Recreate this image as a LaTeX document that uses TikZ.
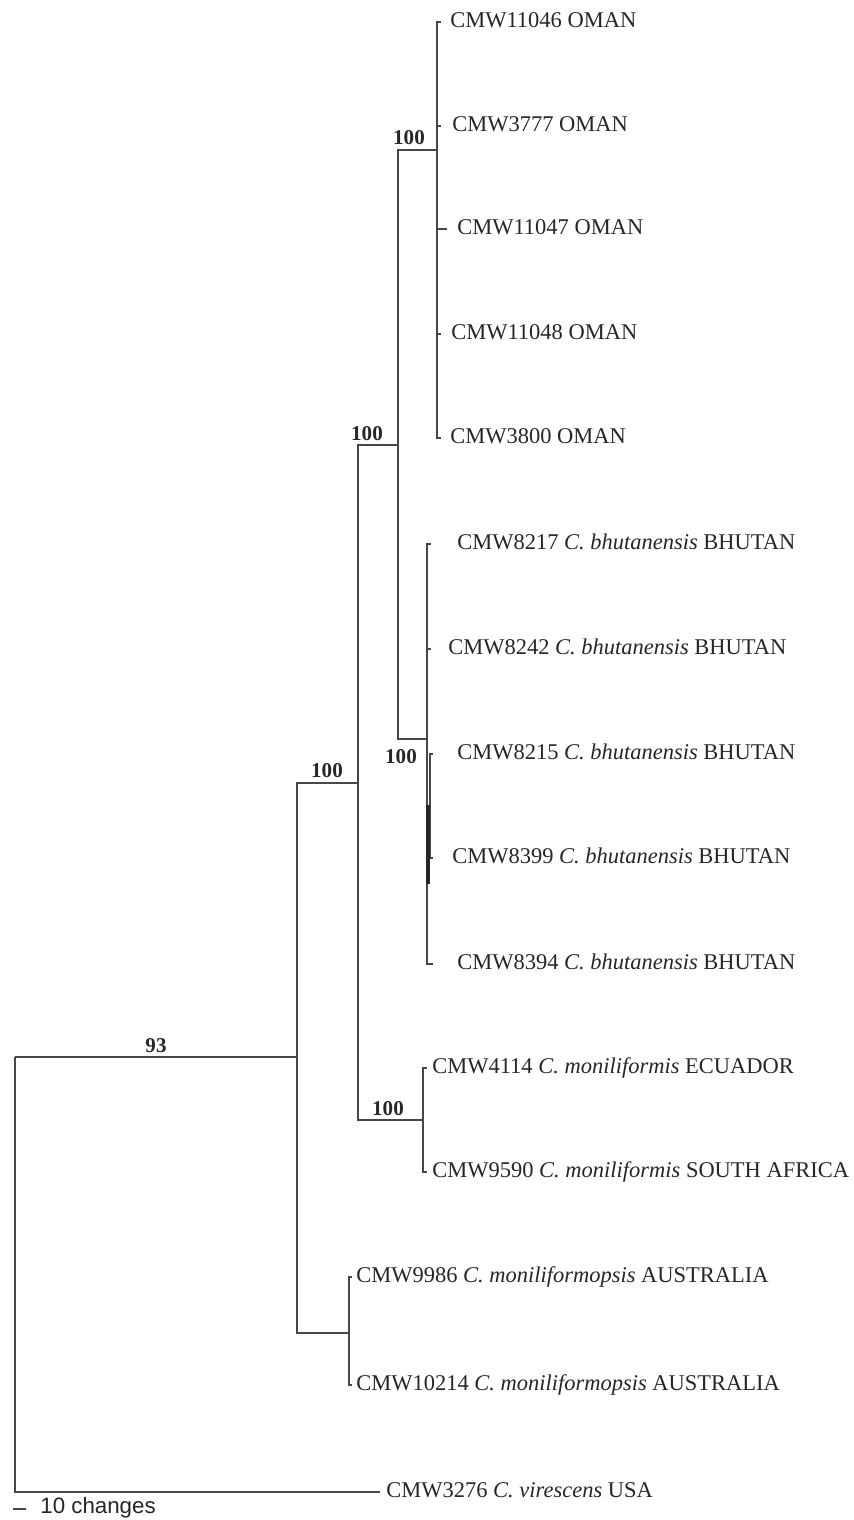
\documentclass[tikz,border=0pt]{standalone}
\usepackage{fontspec}
\setmainfont{Liberation Serif}
\newfontfamily\barfont{Liberation Sans}
\usetikzlibrary{positioning}
\newcommand{\treefont}{\fontsize{12.8}{15}\selectfont}
\newcommand{\bootfont}{\fontsize{12}{14}\selectfont\bfseries}
\newcommand{\spn}[1]{\textit{#1}}

\begin{document}
\begin{tikzpicture}[
    x=0.02cm, y=-0.02cm,
    font=\treefont,
    br/.style={draw=black!72, line width=1.15pt},
    thickbar/.style={draw=black!85, line width=2.4pt},
    leaf/.style={anchor=west, inner ysep=0pt, text height=0.66em, text depth=0pt, text=black!85},
    boot/.style={anchor=base, inner sep=0pt, font=\bootfont, text=black!85},
    scl/.style={anchor=west, inner sep=0pt, text height=0.7em, text depth=0pt, font=\barfont\fontsize{12.7}{15}\selectfont, text=black!85},
  ]
  \useasboundingbox (0,0) rectangle (854,1520);
  % ------------------------------------------------------------------ internal nodes
  \coordinate (root) at (15,1057);
  \coordinate (n1)   at (297,1057);
  \coordinate (n2)   at (358,783);
  \coordinate (aus)  at (349,1333);
  \coordinate (n3)   at (398,445);
  \coordinate (mon)  at (423,1120);
  \coordinate (oma)  at (437,150);
  \coordinate (bhu)  at (427,739);
  \coordinate (bsub) at (430,806);
  % ------------------------------------------------------------------ backbone
  \node[leaf, inner xsep=6*0.02cm] (vir) at (380,1492) {CMW3276 \spn{C. virescens} USA};
  \draw[br] (root) |- (n1);
  \draw[br] (root) |- (vir.west);
  \draw[br] (n1) |- (n2);
  \draw[br] (n1) |- (aus);
  \draw[br] (n2) |- (n3);
  \draw[br] (n2) |- (mon);
  \draw[br] (n3) |- (oma);
  \draw[br] (n3) |- (bhu);
  % ------------------------------------------------------------------ Oman clade
  \foreach \k/\tx/\g/\yy/\txt in {1/441/9/22/CMW11046, 2/441/11/126/CMW3777, 3/447/10/229/CMW11047,
                                  4/441/10/334/CMW11048, 5/441/9/438/CMW3800} {
    \node[leaf, inner xsep=\g*0.02cm] (om\k) at (\tx,\yy) {\txt{} OMAN};
    \draw[br] (oma) |- (om\k.west);
  }
  % ------------------------------------------------------------------ Bhutan clade
  \foreach \k/\tx/\g/\yy/\txt in {1/431/26/544/CMW8217, 2/431/17/649/CMW8242, 5/433/24/964/CMW8394} {
    \node[leaf, inner xsep=\g*0.02cm] (bh\k) at (\tx,\yy) {\txt{} \spn{C. bhutanensis} BHUTAN};
    \draw[br] (bhu) |- (bh\k.west);
  }
  \foreach \k/\tx/\g/\yy/\txt in {3/433/24/754/CMW8215, 4/433/19/858/CMW8399} {
    \node[leaf, inner xsep=\g*0.02cm] (bh\k) at (\tx,\yy) {\txt{} \spn{C. bhutanensis} BHUTAN};
    \draw[br, line width=0.8pt] (bsub) |- (bh\k.west);
  }
  \coordinate (bt) at (428,805);
  \coordinate (bb) at (428,884);
  \draw[thickbar] (bt) -- (bb);
  % ------------------------------------------------------------------ moniliformis and moniliformopsis
  \node[leaf, inner xsep=5*0.02cm] (mo1) at (427,1068) {CMW4114 \spn{C. moniliformis} ECUADOR};
  \node[leaf, inner xsep=5*0.02cm] (mo2) at (427,1172) {CMW9590 \spn{C. moniliformis} SOUTH AFRICA};
  \draw[br] (mon) |- (mo1.west);
  \draw[br] (mon) |- (mo2.west);
  \node[leaf, inner xsep=4*0.02cm] (au1) at (352,1277) {CMW9986 \spn{C. moniliformopsis} AUSTRALIA};
  \node[leaf, inner xsep=4*0.02cm] (au2) at (352,1385) {CMW10214 \spn{C. moniliformopsis} AUSTRALIA};
  \draw[br] (aus) |- (au1.west);
  \draw[br] (aus) |- (au2.west);
  % ------------------------------------------------------------------ bootstrap values
  \node[boot] (bs93) at (156,1052) {93};
  \node[boot] (bsA)  at (327,777) {100};
  \node[boot] (bsB)  at (367,440) {100};
  \node[boot] (bsC)  at (409,145) {100};
  \node[boot] (bsD)  at (388,1115) {100};
  \node[boot, anchor=center] (bsE) at (401,757) {100};
  % ------------------------------------------------------------------ scale bar
  \coordinate (s0) at (13,1509);
  \coordinate (s1) at (26,1509);
  \draw[br] (s0) -- (s1);
  \node[scl] (chg) at (40,1507) {10 changes};
\end{tikzpicture}
\end{document}
